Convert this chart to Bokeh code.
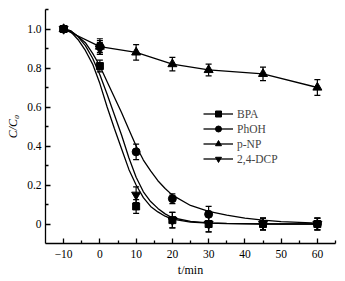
from bokeh.plotting import figure
from bokeh.models import (Range1d, FixedTicker, Whisker, TeeHead, ColumnDataSource,
                          Legend, LegendItem)
from bokeh.embed import file_html
from bokeh.resources import INLINE

# ---- measured data ----
t = [-10, 0, 10, 20, 30, 45, 60]
bpa = [1.0, 0.81, 0.09, 0.02, 0.0, 0.0, 0.0]
bpa_err = [0.015, 0.03, 0.035, 0.04, 0.04, 0.03, 0.03]
phoh = [1.0, 0.91, 0.37, 0.13, 0.05, 0.0, 0.0]
phoh_err = [0.015, 0.03, 0.04, 0.025, 0.04, 0.03, 0.03]
pnp = [1.0, 0.91, 0.88, 0.82, 0.79, 0.77, 0.70]
pnp_err = [0.01, 0.04, 0.04, 0.035, 0.03, 0.035, 0.04]
dcp = [1.0, 0.90, 0.15, 0.02, 0.0, 0.0, 0.0]
dcp_err = [0.01, 0.03, 0.04, 0.04, 0.04, 0.03, 0.03]

# ---- fitted curves ----
fit_t = [-10, -8, -6, -4, -2, 0, 2, 4, 6, 8, 10, 12, 14, 16, 18, 20, 25, 30, 35, 40, 45, 50, 60]
fit_bpa = [1.0, 0.985, 0.945, 0.89, 0.82, 0.72, 0.60, 0.49, 0.385, 0.28, 0.20, 0.135,
           0.09, 0.062, 0.04, 0.025, 0.01, 0.004, 0.002, 0.001, 0.0, 0.0, 0.0]
fit_dcp = [1.0, 0.99, 0.96, 0.915, 0.85, 0.765, 0.665, 0.56, 0.455, 0.34, 0.24, 0.165,
           0.115, 0.08, 0.052, 0.032, 0.013, 0.006, 0.003, 0.002, 0.001, 0.0, 0.0]
fit_phoh = [1.0, 0.99, 0.962, 0.93, 0.875, 0.81, 0.73, 0.65, 0.57, 0.485, 0.40, 0.328,
            0.272, 0.222, 0.182, 0.148, 0.095, 0.065, 0.045, 0.03, 0.02, 0.012, 0.004]

x_ticks = [-10, 0, 10, 20, 30, 40, 50, 60]
x_labels = ["\u221210", "0", "10", "20", "30", "40", "50", "60"]
y_ticks = [0, 0.2, 0.4, 0.6, 0.8, 1]
y_labels = ["0", "0.2", "0.4", "0.6", "0.8", "1.0"]

FONT = "Liberation Serif"

p = figure(width=345, height=281, x_range=Range1d(-15, 65), y_range=Range1d(-0.1, 1.1),
           output_backend="svg", toolbar_location=None,
           min_border_left=45, min_border_right=10, min_border_top=9, min_border_bottom=38)
p.outline_line_color = None
p.grid.visible = False
p.background_fill_color = "white"

for ax in (p.xaxis[0], p.yaxis[0]):
    ax.major_tick_in = 5
    ax.major_tick_out = 0
    ax.minor_tick_in = 3
    ax.minor_tick_out = 0
    ax.axis_line_width = 1.3
    ax.major_tick_line_width = 1.3
    ax.minor_tick_line_width = 1.3
    ax.major_label_text_font = FONT
    ax.major_label_text_font_size = "11.5px"
    ax.major_label_text_color = "black"
    ax.axis_label_text_font = FONT
    ax.axis_label_text_font_size = "12px"
    ax.axis_label_text_color = "black"

p.xaxis.ticker = FixedTicker(ticks=x_ticks, minor_ticks=[-5, 5, 15, 25, 35, 45, 55, 65])
p.yaxis.ticker = FixedTicker(ticks=y_ticks, minor_ticks=[0.1, 0.3, 0.5, 0.7, 0.9, 1.1])
p.xaxis.major_label_overrides = dict(zip(x_ticks, x_labels))
p.yaxis.major_label_overrides = dict(zip(y_ticks, y_labels))
p.xaxis.major_label_standoff = 6
p.yaxis.major_label_standoff = 4

p.xaxis.axis_label = "t/min"
p.xaxis.axis_label_text_font_style = "normal"
p.xaxis.axis_label_standoff = 2
p.yaxis.axis_label = "C/C\u2080"
p.yaxis.axis_label_text_font_style = "italic"
p.yaxis.axis_label_standoff = 4

LW = 1.3

def series(fx, fy, y, err, marker, size):
    line = p.line(fx, fy, line_color="black", line_width=LW)
    src = ColumnDataSource(dict(x=t, y=y, lo=[a - b for a, b in zip(y, err)],
                                hi=[a + b for a, b in zip(y, err)]))
    w = Whisker(base="x", upper="hi", lower="lo", source=src, line_width=1.2,
                upper_head=TeeHead(size=6, line_width=1.2),
                lower_head=TeeHead(size=6, line_width=1.2))
    p.add_layout(w)
    sc = p.scatter("x", "y", source=src, marker=marker, size=size,
                   fill_color="black", line_color="black")
    return line, sc

l_pnp, s_pnp = series(t, pnp, pnp, pnp_err, "triangle", 9)
l_phoh, s_phoh = series(fit_t, fit_phoh, phoh, phoh_err, "circle", 8)
l_dcp, s_dcp = series(fit_t, fit_dcp, dcp, dcp_err, "inverted_triangle", 9)
l_bpa, s_bpa = series(fit_t, fit_bpa, bpa, bpa_err, "square", 7)

legend = Legend(items=[
    LegendItem(label="BPA", renderers=[l_bpa, s_bpa]),
    LegendItem(label="PhOH", renderers=[l_phoh, s_phoh]),
    LegendItem(label="p-NP", renderers=[l_pnp, s_pnp]),
    LegendItem(label="2,4-DCP", renderers=[l_dcp, s_dcp]),
], location=(158, 77), padding=0, margin=0, spacing=0, glyph_width=30, glyph_height=15,
    label_height=15, label_standoff=4, border_line_color=None, background_fill_alpha=0,
    label_text_font=FONT, label_text_font_size="11.5px")
p.add_layout(legend)

open("out.html", "w").write(file_html(p, INLINE))
